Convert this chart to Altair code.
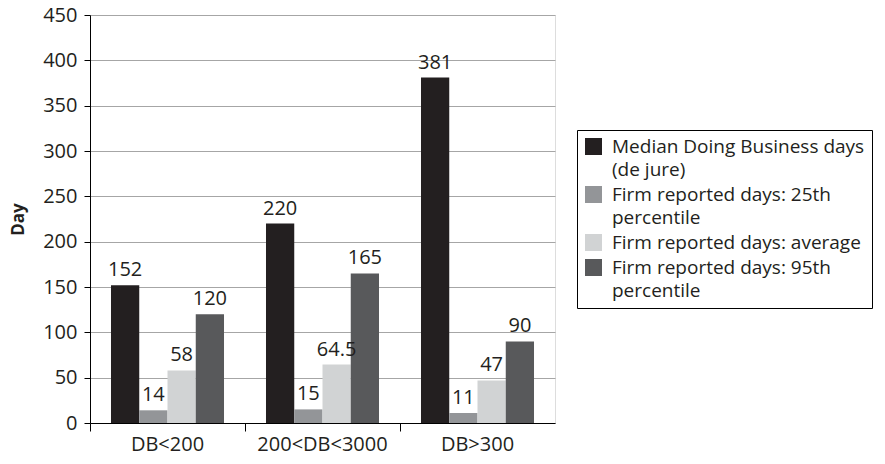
import altair as alt
import pandas as pd

categories = ["DB<200", "200<DB<3000", "DB>300"]
series = [
    "Median Doing Business days|(de jure)",
    "Firm reported days: 25th|percentile",
    "Firm reported days: average",
    "Firm reported days: 95th|percentile",
]
median_db = [152, 220, 381]
p25 = [14, 15, 11]
average = [58, 64.5, 47]
p95 = [120, 165, 90]
value_labels = [["152", "220", "381"], ["14", "15", "11"], ["58", "64.5", "47"], ["120", "165", "90"]]
colors = ["#231f20", "#939598", "#d1d3d4", "#58595b"]
y_ticks = [0, 50, 100, 150, 200, 250, 300, 350, 400, 450]

rows = []
for si, vals in enumerate([median_db, p25, average, p95]):
    for ci, cat in enumerate(categories):
        rows.append({"cat": cat, "series": series[si], "order": si,
                     "value": vals[ci], "label": value_labels[si][ci]})
df = pd.DataFrame(rows)

FONT = "Open Sans"
TXT = "#231f20"

x_enc = alt.X("cat:N", sort=categories, title=None,
              scale=alt.Scale(paddingInner=0, paddingOuter=0),
              axis=alt.Axis(bandPosition=0, labelAngle=0, labelFontSize=20,
                            labelColor=TXT, labelFont=FONT, domainColor="#000000",
                            tickColor="#000000", tickSize=8, labelPadding=3,
                            labelOffset=0, labelBound=False))
xoff = alt.XOffset("series:N", sort=series,
                   scale=alt.Scale(paddingInner=0, paddingOuter=0.743))
y_enc = alt.Y("value:Q", title="Day",
              scale=alt.Scale(domain=[0, 450], nice=False),
              axis=alt.Axis(values=y_ticks, labelFontSize=20, labelColor=TXT,
                            labelFont=FONT, titleFont=FONT, titleFontSize=17,
                            titleFontWeight="bold", titleColor=TXT,
                            grid=True, gridColor="#a6a6a6", gridWidth=1.2,
                            domainColor="#000000", tickColor="#000000",
                            tickSize=6, labelPadding=7, titlePadding=15))

bars = alt.Chart(df).mark_bar().encode(
    x=x_enc, xOffset=xoff, y=y_enc,
    color=alt.Color("series:N", sort=series,
                    scale=alt.Scale(domain=series, range=colors),
                    legend=alt.Legend(title=None, orient="none", legendX=487, legendY=115,
                                      labelExpr="split(datum.label, '|')",
                                      labelFont=FONT, labelFontSize=19, labelColor=TXT,
                                      labelLimit=400, symbolType="square", symbolSize=289,
                                      symbolStrokeWidth=0, labelOffset=9,
                                      rowPadding=5, padding=7,
                                      strokeColor="#000000", fillColor="#ffffff",
                                      symbolOpacity=1)),
)

texts = alt.Chart(df).mark_text(baseline="alphabetic", dy=-9, fontSize=20, font=FONT,
                                color=TXT).encode(
    x=alt.X("cat:N", sort=categories), xOffset=xoff, y="value:Q", text="label:N"
)

chart = (bars + texts).properties(
    width=465, height=408,
    autosize=alt.AutoSizeParams(type="none"),
    padding={"left": 82, "top": 7, "right": 322, "bottom": 33},
).configure_view(stroke=None).configure_axisX(grid=False).configure(
    style={"guide-label": {"lineHeight": 23}}
)

chart.save("out.html", embed_options={"renderer": "svg", "actions": False})
